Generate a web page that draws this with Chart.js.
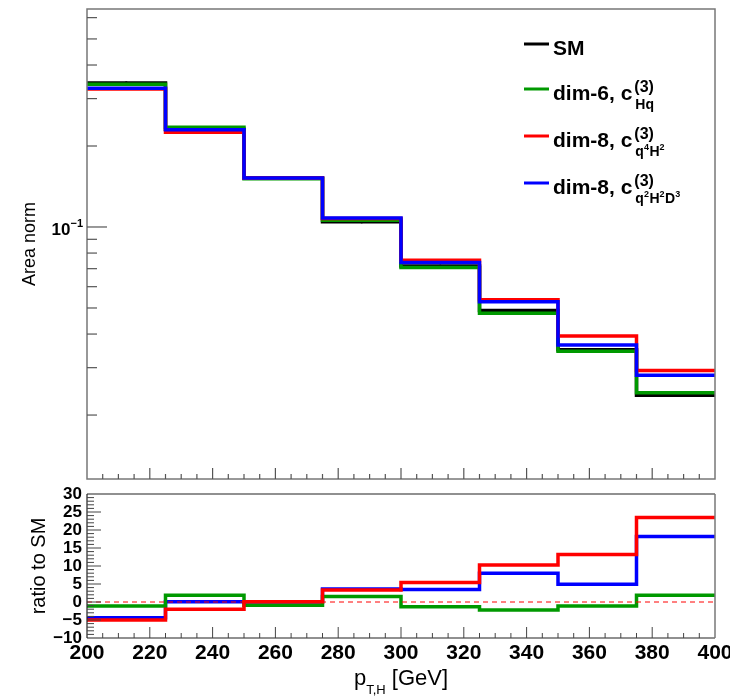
<!DOCTYPE html>
<html>
<head>
<meta charset="utf-8">
<script src="https://cdn.jsdelivr.net/npm/chart.js@4.4.1/dist/chart.umd.min.js"></script>
<style>
  html, body { margin: 0; padding: 0; background: #fff; }
  #wrap { position: relative; width: 730px; height: 700px; }
  #top_canvas { position: absolute; left: 0; top: 0; }
  #ratio_canvas { position: absolute; left: 0; top: 486px; }
</style>
</head>
<body>
<div id="wrap">
  <canvas id="top_canvas" width="730" height="486"></canvas>
  <canvas id="ratio_canvas" width="730" height="214"></canvas>
</div>
<script>
// bin edges of p_T,H [GeV]
const binEdges = [200, 225, 250, 275, 300, 325, 350, 375, 400];

// area normalised distributions
const smNorm     = [0.343, 0.231, 0.152, 0.1045, 0.0716, 0.0489, 0.0350, 0.0237];
const dim6Norm   = [0.339, 0.235, 0.151, 0.1060, 0.0707, 0.0478, 0.0345, 0.0242];
const dim8q4Norm = [0.326, 0.225, 0.152, 0.1075, 0.0752, 0.0536, 0.0393, 0.0293];
const dim8q2Norm = [0.328, 0.230, 0.152, 0.1080, 0.0738, 0.0527, 0.0364, 0.0281];

// ratio to SM [%]
const dim6Ratio   = [-1.1, 1.9, -0.9, 1.5, -1.3, -2.2, -1.1, 1.9];
const dim8q4Ratio = [-5.0, -2.0, 0.1, 3.3, 5.4, 10.3, 13.2, 23.5];
const dim8q2Ratio = [-4.4, 0.1, 0.0, 3.6, 3.5, 8.0, 4.9, 18.2];

// axis ranges and ticks
const logRange = [0.01157, 0.646];
const logMinorTicks = [0.02, 0.03, 0.04, 0.05, 0.06, 0.07, 0.08, 0.09, 0.2, 0.3, 0.4, 0.5, 0.6];
const logMajorTicks = [0.1];
const ratioRange = [-10, 30];
const xRange = [200, 400];

// legend texts
const legendNames = ['SM', 'dim-6, c', 'dim-8, c', 'dim-8, c'];
const legendSups = ['', '(3)', '(3)', '(3)'];
const legendSubs = [
  [],
  [['Hq', 0]],
  [['q', 0], ['4', 1], ['H', 0], ['2', 1]],
  [['q', 0], ['2', 1], ['H', 0], ['2', 1], ['D', 0], ['3', 1]]
];

const colors = {
  black: '#000000',
  green: 'rgb(0,153,0)',
  red: '#ff0000',
  blue: '#0000ff',
  frame: '#777777'
};
const legendColors = [colors.black, colors.green, colors.red, colors.blue];
const FONT = '"Liberation Sans", Arial, Helvetica, sans-serif';

function histPoints(values) {
  const pts = values.map((v, i) => ({ x: binEdges[i], y: v }));
  pts.push({ x: binEdges[binEdges.length - 1], y: values[values.length - 1] });
  return pts;
}

function binCenters(values) {
  return values.map((v, i) => ({ x: (binEdges[i] + binEdges[i + 1]) / 2, y: v }));
}

function histSet(values, color, order) {
  return {
    data: histPoints(values),
    borderColor: color,
    backgroundColor: color,
    borderWidth: 3.5,
    stepped: 'before',
    pointRadius: 0,
    fill: false,
    order: order
  };
}

function line(ctx, x1, y1, x2, y2) {
  ctx.beginPath();
  ctx.moveTo(x1, y1);
  ctx.lineTo(x2, y2);
  ctx.stroke();
}

const topDecor = {
  id: 'topDecor',
  afterDraw(chart) {
    const { ctx, chartArea: a, scales: { x, y } } = chart;
    ctx.save();
    ctx.strokeStyle = colors.frame;
    ctx.lineWidth = 1.5;
    ctx.strokeRect(a.left, a.top, a.right - a.left, a.bottom - a.top);

    // y ticks, inward
    ctx.lineWidth = 1.2;
    ctx.strokeStyle = '#555';
    logMinorTicks.forEach(v => { const py = y.getPixelForValue(v); line(ctx, a.left, py, a.left + 10, py); });
    logMajorTicks.forEach(v => { const py = y.getPixelForValue(v); line(ctx, a.left, py, a.left + 20, py); });

    // x ticks every 5 GeV
    for (let v = xRange[0] + 5; v < xRange[1]; v += 5) {
      const px = x.getPixelForValue(v);
      const len = (v % 20 === 0) ? 11 : 5;
      line(ctx, px, a.bottom, px, a.bottom - len);
    }

    // 10^-1 label
    const py = y.getPixelForValue(0.1);
    ctx.fillStyle = '#000';
    ctx.textBaseline = 'alphabetic';
    ctx.font = 'bold 11px ' + FONT;
    const supW = ctx.measureText('\u22121').width;
    ctx.textAlign = 'right';
    ctx.fillText('\u22121', 83, py);
    ctx.font = 'bold 17px ' + FONT;
    ctx.fillText('10', 83 - supW, py + 8);

    // legend
    const rowsY = [44, 89, 136, 183];
    ctx.textAlign = 'left';
    legendNames.forEach((name, i) => {
      const ly = rowsY[i];
      ctx.strokeStyle = legendColors[i];
      ctx.lineWidth = 3;
      line(ctx, 524, ly, 549, ly);
      const base = ly + 11;
      ctx.fillStyle = '#000';
      ctx.font = 'bold 21px ' + FONT;
      ctx.fillText(name, 553, base);
      let xs = 553 + ctx.measureText(name).width + 2;
      if (legendSups[i]) {
        ctx.font = 'bold 16px ' + FONT;
        ctx.fillText(legendSups[i], xs, base - 8);
      }
      let xx = xs + 1;
      legendSubs[i].forEach(([t, up]) => {
        ctx.font = (up ? 'bold 9px ' : 'bold 14px ') + FONT;
        ctx.fillText(t, xx, base + (up ? 3 : 9));
        xx += ctx.measureText(t).width + (up ? 0.5 : 0);
      });
    });
    ctx.restore();
  }
};

const ratioDecor = {
  id: 'ratioDecor',
  afterDraw(chart) {
    const { ctx, chartArea: a, scales: { x, y } } = chart;
    ctx.save();
    // frame
    ctx.lineWidth = 1.2;
    ctx.strokeStyle = '#222';
    line(ctx, a.left, a.top, a.right, a.top);
    line(ctx, a.left, a.top, a.left, a.bottom);
    line(ctx, a.left, a.bottom, a.right, a.bottom);
    ctx.strokeStyle = colors.frame;
    ctx.lineWidth = 1.5;
    line(ctx, a.right, a.top, a.right, a.bottom);

    ctx.strokeStyle = '#444';
    ctx.lineWidth = 1;
    for (let v = ratioRange[0] + 1; v < ratioRange[1]; v++) {
      const py = y.getPixelForValue(v);
      const len = (v % 5 === 0) ? 14 : 7;
      line(ctx, a.left, py, a.left + len, py);
    }
    for (let v = xRange[0] + 5; v < xRange[1]; v += 5) {
      const px = x.getPixelForValue(v);
      const len = (v % 20 === 0) ? 11 : 5;
      line(ctx, px, a.bottom, px, a.bottom - len);
    }

    // x title p_T,H [GeV]
    ctx.fillStyle = '#000';
    ctx.textBaseline = 'alphabetic';
    ctx.textAlign = 'left';
    const main1 = 'p', sub = 'T,H', main2 = ' [GeV]';
    ctx.font = '22px ' + FONT;
    const w1 = ctx.measureText(main1).width;
    const w3 = ctx.measureText(main2).width;
    ctx.font = '13px ' + FONT;
    const w2 = ctx.measureText(sub).width;
    const cx = (a.left + a.right) / 2;
    let tx = cx - (w1 + w2 + w3) / 2;
    const base = 199;
    ctx.font = '22px ' + FONT;
    ctx.fillText(main1, tx, base);
    ctx.font = '13px ' + FONT;
    ctx.fillText(sub, tx + w1, base + 9);
    ctx.font = '22px ' + FONT;
    ctx.fillText(main2, tx + w1 + w2, base);
    ctx.restore();
  }
};

new Chart(document.getElementById('top_canvas'), {
  type: 'line',
  data: {
    datasets: [
      histSet(dim8q2Norm, colors.blue, 1),
      histSet(dim8q4Norm, colors.red, 2),
      histSet(dim6Norm, colors.green, 3),
      histSet(smNorm, colors.black, 4),
      {
        type: 'scatter',
        data: binCenters(smNorm),
        showLine: false,
        pointRadius: 1.6,
        pointBackgroundColor: colors.black,
        pointBorderWidth: 0,
        order: 5
      }
    ]
  },
  options: {
    responsive: false,
    animation: false,
    layout: { padding: { top: 9, right: 15, left: 0, bottom: 0 } },
    plugins: { legend: { display: false }, tooltip: { enabled: false } },
    scales: {
      x: {
        type: 'linear', min: xRange[0], max: xRange[1],
        ticks: { display: false }, grid: { display: false }, border: { display: false },
        afterFit: s => { s.height = 7; s.paddingLeft = 0; s.paddingRight = 0; }
      },
      y: {
        type: 'logarithmic', min: logRange[0], max: logRange[1],
        ticks: { display: false }, grid: { display: false }, border: { display: false },
        title: {
          display: true, text: 'Area norm', color: '#000',
          font: { family: FONT, size: 18 }, padding: { top: 19, bottom: 0 }
        },
        afterFit: s => { s.width = 87; s.paddingTop = 0; s.paddingBottom = 0; }
      }
    }
  },
  plugins: [topDecor]
});

new Chart(document.getElementById('ratio_canvas'), {
  type: 'line',
  data: {
    datasets: [
      {
        data: [{ x: xRange[0], y: 0 }, { x: xRange[1], y: 0 }],
        borderColor: colors.red, borderWidth: 1, borderDash: [5, 4],
        pointRadius: 0, order: 0
      },
      histSet(dim8q4Ratio, colors.red, 1),
      histSet(dim6Ratio, colors.green, 2),
      histSet(dim8q2Ratio, colors.blue, 3)
    ]
  },
  options: {
    responsive: false,
    animation: false,
    layout: { padding: { top: 8, right: 15, left: 0, bottom: 0 } },
    plugins: { legend: { display: false }, tooltip: { enabled: false } },
    scales: {
      x: {
        type: 'linear', min: xRange[0], max: xRange[1],
        ticks: {
          stepSize: 20, autoSkip: false, maxRotation: 0, padding: 3, color: '#000',
          font: { family: FONT, size: 21, weight: 'bold' }
        },
        grid: { display: false, drawTicks: false }, border: { display: false },
        afterFit: s => { s.height = 62; s.paddingLeft = 0; s.paddingRight = 0; }
      },
      y: {
        type: 'linear', min: ratioRange[0], max: ratioRange[1],
        ticks: {
          stepSize: 5, autoSkip: false, padding: 5, color: '#000',
          font: { family: FONT, size: 17, weight: 'bold' },
          callback: v => (v < 0 ? '\u2212' + Math.abs(v) : String(v))
        },
        grid: { display: false, drawTicks: false }, border: { display: false },
        title: {
          display: true, text: 'ratio to SM', color: '#000',
          font: { family: FONT, size: 20 }, padding: { top: 27, bottom: 0 }
        },
        afterFit: s => { s.width = 87; s.paddingTop = 0; s.paddingBottom = 0; }
      }
    }
  },
  plugins: [ratioDecor]
});
</script>
</body>
</html>
